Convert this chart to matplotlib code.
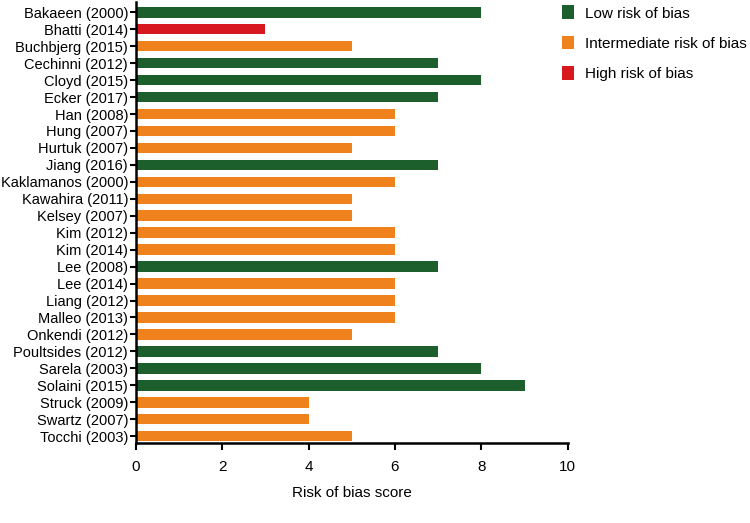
import matplotlib.pyplot as plt
from matplotlib.patches import Patch

plt.rcParams['font.family'] = ['Liberation Sans', 'DejaVu Sans']

studies = ['Bakaeen (2000)', 'Bhatti (2014)', 'Buchbjerg (2015)', 'Cechinni (2012)',
           'Cloyd (2015)', 'Ecker (2017)', 'Han (2008)', 'Hung (2007)', 'Hurtuk (2007)',
           'Jiang (2016)', 'Kaklamanos (2000)', 'Kawahira (2011)', 'Kelsey (2007)',
           'Kim (2012)', 'Kim (2014)', 'Lee (2008)', 'Lee (2014)', 'Liang (2012)',
           'Malleo (2013)', 'Onkendi (2012)', 'Poultsides (2012)', 'Sarela (2003)',
           'Solaini (2015)', 'Struck (2009)', 'Swartz (2007)', 'Tocchi (2003)']
scores = [8, 3, 5, 7, 8, 7, 6, 6, 5, 7, 6, 5, 5, 6, 6, 7, 6, 6, 6, 5, 7, 8, 9, 4, 4, 5]
risk = ['low', 'high', 'mid', 'low', 'low', 'low', 'mid', 'mid', 'mid', 'low', 'mid',
        'mid', 'mid', 'mid', 'mid', 'low', 'mid', 'mid', 'mid', 'mid', 'low', 'low',
        'low', 'mid', 'mid', 'mid']

colors = {'low': '#1c5e2c', 'mid': '#f0821e', 'high': '#d7191f'}
labels = {'low': 'Low risk of bias', 'mid': 'Intermediate risk of bias',
          'high': 'High risk of bias'}

fig = plt.figure(figsize=(7.5, 5.23), dpi=100)
ax = fig.add_axes([0.181, 0.153, 0.576, 0.843])

ypos = list(range(len(studies)))
ax.barh(ypos, scores, height=0.62, color=[colors[r] for r in risk])
ax.set_yticks(ypos)
ax.set_yticklabels(studies, fontsize=10.5)
ax.set_ylim(len(studies) - 0.6, -0.6)
ax.set_xlim(0, 10)
ax.set_xticks(range(0, 11, 2))
ax.tick_params(axis='x', labelsize=11, width=1.5, length=5, pad=7)
ax.tick_params(axis='y', width=1.5, length=4, pad=1.5)
ax.set_xlabel('Risk of bias score', fontsize=11, labelpad=9)

for s in ['top', 'right']:
    ax.spines[s].set_visible(False)
for s in ['left', 'bottom']:
    ax.spines[s].set_linewidth(1.8)

handles = [Patch(facecolor=colors[k], label=labels[k]) for k in ['low', 'mid', 'high']]
fig.legend(handles=handles, loc='upper left', bbox_to_anchor=(0.735, 1.01),
           frameon=False, fontsize=11, handlelength=0.8, handleheight=1.0,
           labelspacing=1.0, handletextpad=0.7, borderaxespad=0.3)

fig.savefig('out.png', dpi=100)
